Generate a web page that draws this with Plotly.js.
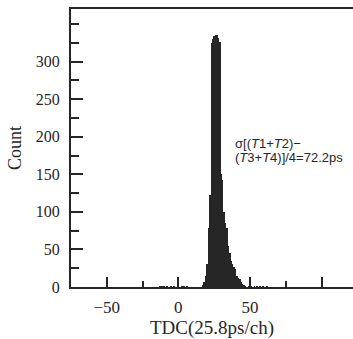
<!DOCTYPE html>
<html>
<head>
<meta charset="utf-8">
<script src="https://cdn.plot.ly/plotly-3.0.1.min.js"></script>
<style>html,body{margin:0;padding:0;background:#fff;}#chart{width:353px;height:339px;}</style>
</head>
<body>
<div id="chart"></div>
<script>
// TDC channel (25.8 ps/ch) and counts per channel
const channels = [-13,-12,-11,-10,-8,-5,-3,2,3,4,6,
  17,18,19,20,21,22,23,24,25,26,27,28,29,30,31,32,33,34,35,36,37,38,39,40,41,42,43,44,45,46,47,
  49,50,51,53,55,57,59,62];
const counts = [1,2,2,1,1,1,1,1,2,1,1,
  3,6,15,30,78,122,325,330,334,336,335,332,326,150,142,100,85,78,55,45,35,30,27,24,15,12,10,7,4,3,2,
  1,2,1,1,2,1,1,1];
const xTickVals = [-50, 0, 50, 100];
const xTickText = ['−50', '0', '50', ''];
const xMinorVals = [-75, -25, 25, 75];
const yTickVals = [0, 50, 100, 150, 200, 250, 300];
const yMinorVals = [25, 75, 125, 175, 225, 275, 325, 350];
const xTitle = 'TDC(25.8ps/ch)';
const yTitle = 'Count';
const noteLine1 = 'σ[(<i>T</i>1+<i>T</i>2)−';
const noteLine2 = '(<i>T</i>3+<i>T</i>4)]/4=72.2ps';

const ink = '#262626';
const serif = 'Liberation Serif, Times New Roman, serif';
const sans = 'Liberation Sans, Arial, sans-serif';

const trace = {
  type: 'bar',
  x: channels,
  y: counts,
  width: 1,
  marker: {color: '#262626', line: {width: 0}},
  hoverinfo: 'skip'
};

const noteStyle = {
  xref: 'x', yref: 'y', x: 38.2,
  xanchor: 'left', yanchor: 'middle', align: 'left',
  showarrow: false,
  font: {family: sans, size: 13, color: ink}
};

const layout = {
  width: 353, height: 339,
  margin: {l: 71, r: 0, t: 9, b: 52},
  paper_bgcolor: '#ffffff', plot_bgcolor: '#ffffff',
  showlegend: false,
  bargap: 0,
  font: {family: serif, color: ink},
  xaxis: {
    range: [-75, 122],
    tickmode: 'array', tickvals: xTickVals, ticktext: xTickText,
    ticks: 'inside', ticklen: 10, tickwidth: 2, tickcolor: ink,
    minor: {tickmode: 'array', tickvals: xMinorVals, ticks: 'inside', ticklen: 6, tickwidth: 2, tickcolor: ink},
    showline: true, linewidth: 2, linecolor: ink, mirror: true,
    showgrid: false, zeroline: false,
    tickfont: {family: serif, size: 17, color: ink},
    ticklabelstandoff: 4,
    title: {text: xTitle, font: {family: serif, size: 19, color: ink}, standoff: 7},
    automargin: false
  },
  yaxis: {
    range: [0, 370],
    tickmode: 'array', tickvals: yTickVals,
    ticks: 'inside', ticklen: 12, tickwidth: 2, tickcolor: ink,
    minor: {tickmode: 'array', tickvals: yMinorVals, ticks: 'inside', ticklen: 8, tickwidth: 2, tickcolor: ink},
    showline: true, linewidth: 2, linecolor: ink, mirror: false,
    showgrid: false, zeroline: false,
    tickfont: {family: serif, size: 16, color: ink},
    ticklabelstandoff: 6,
    title: {text: yTitle, font: {family: serif, size: 18, color: ink}, standoff: 9},
    automargin: false
  },
  annotations: [
    Object.assign({}, noteStyle, {y: 191, text: noteLine1}),
    Object.assign({}, noteStyle, {y: 172, text: noteLine2})
  ]
};

Plotly.newPlot('chart', [trace], layout, {displayModeBar: false, staticPlot: true});
</script>
</body>
</html>
